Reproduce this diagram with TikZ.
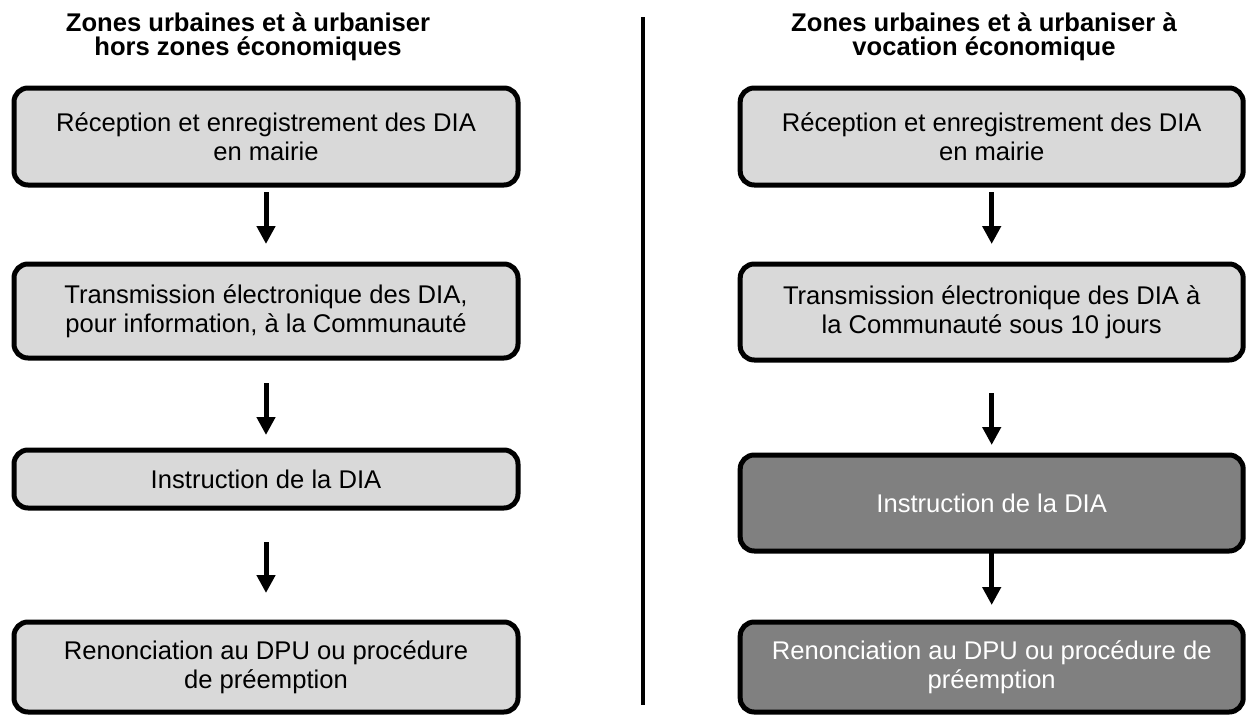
\documentclass[tikz,border=0pt]{standalone}
\usepackage{fontspec}
\setmainfont{Liberation Sans}
\usepackage{xcolor}
\usetikzlibrary{arrows.meta, positioning}

\definecolor{lightgrey}{HTML}{D9D9D9}
\definecolor{darkgrey}{HTML}{808080}

\begin{document}
\begin{tikzpicture}[
        x=1pt, y=-1pt,
        every node/.style={font=\fontsize{25.6}{29.4}\selectfont, align=center, outer sep=0pt},
        stage/.style={draw, line width=5pt, rounded corners=14pt, fill=lightgrey,
                      inner sep=0pt},
        stagedark/.style={stage, fill=darkgrey, text=white},
        flow/.style={line width=5pt, -{Triangle[width=18pt, length=18pt]}},
        heading/.style={font=\fontsize{25.6}{24.5}\bfseries\selectfont, inner sep=0pt}
]
\useasboundingbox (0,0) rectangle (1248,715);

%--- column headings -----------------------------------------
\node[heading] (headL) at (248,37) {Zones urbaines et à urbaniser\\hors zones économiques};
\node[heading] (headR) at (984,37) {Zones urbaines et à urbaniser à\\vocation économique};

%--- divider -------------------------------------------------
\coordinate (divtop) at (643,17);
\coordinate (divbot) at (643,705);
\draw[line width=4.5pt] (divtop) -- (divbot);

%--- left column: outside economic zones ---------------------
\node[stage, minimum width=504pt, minimum height=97pt] (recL)  at (266,136.5)
      {Réception et enregistrement des DIA\\en mairie};
\node[stage, minimum width=504pt, minimum height=94pt] (trL)   at (266,311)
      {Transmission électronique des DIA,\\pour information, à la Communauté};
\node[stage, minimum width=504pt, minimum height=58pt] (instL) at (266,479)
      {Instruction de la DIA};
\node[stage, minimum width=504pt, minimum height=90pt] (renL)  at (266,667)
      {Renonciation au DPU ou procédure\\de préemption};

%--- right column: economic zones ----------------------------
\node[stage, minimum width=503pt, minimum height=97pt] (recR)  at (991.7,136.5)
      {Réception et enregistrement des DIA\\en mairie};
\node[stage, minimum width=503pt, minimum height=96pt] (trR)   at (991.7,312)
      {Transmission électronique des DIA à\\la Communauté sous 10 jours};
\node[stagedark, minimum width=503pt, minimum height=96pt] (instR) at (991.7,503)
      {Instruction de la DIA};
\node[stagedark, minimum width=503pt, minimum height=90pt] (renR)  at (991.7,667)
      {Renonciation au DPU ou procédure de\\préemption};

%--- arrows --------------------------------------------------
\draw[flow, shorten <=7pt,  shorten >=20pt] (recL)  -- (trL);
\draw[flow, shorten <=25pt, shorten >=15pt] (trL)   -- (instL);
\draw[flow, shorten <=34pt, shorten >=29pt] (instL) -- (renL);

\draw[flow, shorten <=7pt,  shorten >=20pt] (recR)  -- (trR);
\draw[flow, shorten <=33pt, shorten >=10pt] (trR)   -- (instR);
\draw[flow, shorten <=0pt,  shorten >=17pt] (instR) -- (renR);

\end{tikzpicture}
\end{document}
